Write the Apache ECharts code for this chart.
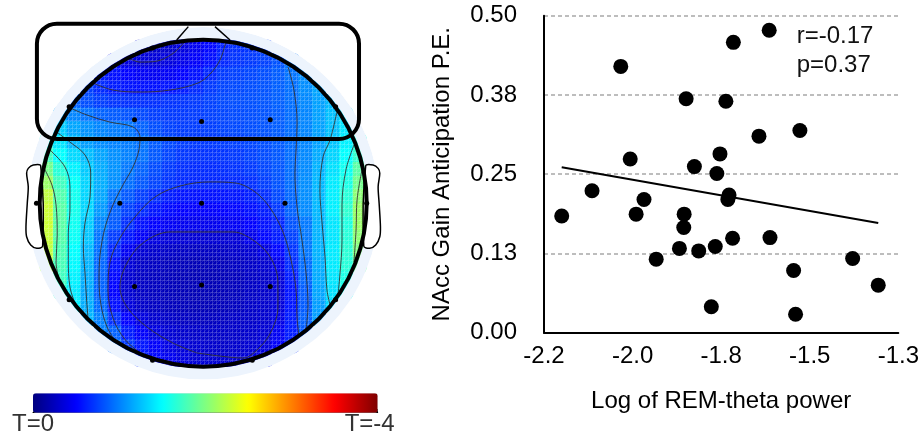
<!DOCTYPE html>
<html>
<head>
<meta charset="utf-8">
<script src="https://cdn.jsdelivr.net/npm/echarts@6/dist/echarts.min.js"></script>
<style>
  html, body { margin: 0; padding: 0; background: #fff; }
  #chart { width: 922px; height: 436px; }
</style>
</head>
<body>
<div id="chart"></div>
<script>
// ---------- Scatter: REM-theta power vs. NAcc gain anticipation ----------
const remTheta = [-2.155, -2.078, -2.005, -1.981, -1.946, -1.966, -1.915, -1.856, -1.844, -1.845,
                  -1.839, -1.818, -1.807, -1.775, -1.765, -1.761, -1.753, -1.738, -1.730, -1.733,
                  -1.721, -1.719, -1.654, -1.628, -1.626, -1.550, -1.566, -1.561, -1.416, -1.351];
const naccPE   = [0.184, 0.224, 0.420, 0.274, 0.210, 0.187, 0.116, 0.133, 0.187, 0.166,
                  0.369, 0.262, 0.129, 0.041, 0.136, 0.251, 0.282, 0.365, 0.217, 0.210,
                  0.149, 0.458, 0.310, 0.477, 0.150, 0.319, 0.098, 0.029, 0.117, 0.075];
const fitX = [-2.155, -1.351];
const fitY = [0.261, 0.173];
const xTickValues = [-2.2, -1.975, -1.75, -1.525, -1.3];
const xTickLabels = ['-2.2', '-2.0', '-1.8', '-1.5', '-1.3'];
const yTickValues = [0, 0.125, 0.25, 0.375, 0.5];
const yTickLabels = ['0.00', '0.13', '0.25', '0.38', '0.50'];
const statLines = ['r=-0.17', 'p=0.37'];

// ---------- Scalp map (T values, 0 .. -4) ----------
// Electrode positions in head units (radius 1, nose up)
const electrodes = [
  ['Fp1', -0.31, 0.95], ['Fp2', 0.30, 0.95],
  ['F7', -0.82, 0.59], ['F3', -0.42, 0.51], ['Fz', -0.01, 0.50], ['F4', 0.41, 0.51], ['F8', 0.81, 0.59],
  ['T3', -1.02, 0.0], ['C3', -0.51, 0.0], ['Cz', -0.01, 0.0], ['C4', 0.50, 0.0], ['T4', 1.0, 0.0],
  ['T5', -0.82, -0.59], ['P3', -0.42, -0.51], ['Pz', -0.01, -0.50], ['P4', 0.41, -0.51], ['T6', 0.81, -0.59],
  ['O1', -0.31, -0.96], ['O2', 0.30, -0.96]
];
// |T| on a 24 x 24 grid (row 0 = front); each row starts at column fieldStart[row]
const fieldStart = [7, 5, 4, 3, 2, 1, 1, 0, 0, 0, 0, 0, 0, 0, 0, 0, 0, 1, 1, 2, 3, 4, 5, 7];
const fieldRows = [
  [0.32,0.30,0.30,0.37,0.45,0.52,0.62,0.68,0.70,0.72],
  [0.45,0.38,0.35,0.35,0.37,0.42,0.48,0.55,0.65,0.70,0.72,0.75,0.82,0.97],
  [0.60,0.55,0.50,0.46,0.45,0.46,0.50,0.56,0.65,0.72,0.75,0.77,0.80,0.86,0.95,1.05],
  [0.75,0.66,0.60,0.57,0.56,0.56,0.57,0.60,0.66,0.72,0.76,0.78,0.80,0.82,0.87,0.93,1.05,1.15],
  [0.88,0.80,0.74,0.70,0.68,0.68,0.68,0.69,0.70,0.72,0.75,0.78,0.80,0.81,0.83,0.87,0.93,1.03,1.13,1.22],
  [1.15,1.02,0.95,0.88,0.85,0.82,0.78,0.74,0.72,0.72,0.73,0.75,0.77,0.79,0.80,0.82,0.86,0.92,1.02,1.13,1.25,1.38],
  [1.30,1.15,1.07,1.02,0.99,0.96,0.88,0.80,0.75,0.73,0.73,0.74,0.76,0.78,0.80,0.82,0.86,0.92,1.02,1.13,1.25,1.40],
  [1.60,1.40,1.22,1.12,1.05,1.01,0.98,0.94,0.85,0.78,0.74,0.72,0.72,0.73,0.75,0.77,0.80,0.85,0.92,1.02,1.13,1.27,1.45,1.62],
  [1.75,1.50,1.35,1.24,1.14,1.06,1.00,0.94,0.84,0.76,0.71,0.69,0.69,0.70,0.72,0.75,0.79,0.84,0.92,1.03,1.17,1.33,1.50,1.70],
  [1.95,1.65,1.45,1.29,1.17,1.07,0.97,0.88,0.79,0.72,0.68,0.66,0.66,0.67,0.69,0.72,0.77,0.83,0.92,1.04,1.20,1.38,1.55,1.85],
  [2.10,1.75,1.52,1.33,1.18,1.06,0.93,0.84,0.76,0.70,0.66,0.65,0.65,0.65,0.66,0.68,0.74,0.82,0.92,1.05,1.22,1.42,1.60,1.95],
  [2.25,1.82,1.56,1.34,1.15,0.95,0.84,0.74,0.66,0.60,0.57,0.56,0.56,0.57,0.58,0.61,0.67,0.78,0.90,1.05,1.23,1.44,1.65,2.05],
  [2.30,1.85,1.57,1.34,1.10,0.88,0.75,0.66,0.58,0.53,0.50,0.49,0.49,0.50,0.52,0.55,0.60,0.72,0.88,1.04,1.22,1.44,1.68,2.10],
  [2.30,1.85,1.55,1.30,1.02,0.85,0.68,0.56,0.50,0.46,0.44,0.43,0.43,0.44,0.46,0.50,0.56,0.64,0.82,0.97,1.20,1.40,1.62,2.10],
  [2.28,1.83,1.53,1.27,0.95,0.73,0.58,0.47,0.38,0.35,0.34,0.33,0.33,0.33,0.34,0.42,0.52,0.60,0.75,0.97,1.20,1.40,1.65,2.05],
  [2.25,1.80,1.50,1.22,0.93,0.64,0.45,0.33,0.30,0.28,0.27,0.26,0.26,0.27,0.30,0.32,0.38,0.52,0.70,0.96,1.20,1.42,1.66,2.00],
  [2.20,1.78,1.48,1.20,0.90,0.56,0.34,0.28,0.26,0.24,0.23,0.22,0.22,0.23,0.26,0.28,0.31,0.42,0.66,0.92,1.18,1.42,1.65,1.90],
  [1.75,1.45,1.18,0.88,0.52,0.32,0.27,0.25,0.23,0.22,0.21,0.21,0.22,0.24,0.27,0.29,0.36,0.60,0.90,1.17,1.40,1.60],
  [1.70,1.42,1.16,0.88,0.50,0.32,0.27,0.25,0.23,0.22,0.21,0.21,0.22,0.24,0.27,0.29,0.35,0.57,0.86,1.15,1.38,1.55],
  [1.45,1.18,0.92,0.55,0.36,0.29,0.26,0.24,0.23,0.22,0.22,0.23,0.25,0.28,0.30,0.36,0.58,0.85,1.12,1.35],
  [1.22,1.00,0.68,0.50,0.37,0.31,0.28,0.26,0.25,0.25,0.26,0.28,0.29,0.31,0.40,0.60,0.88,1.12],
  [1.00,0.88,0.60,0.48,0.38,0.33,0.30,0.29,0.28,0.28,0.29,0.30,0.33,0.45,0.60,0.85],
  [0.95,0.72,0.58,0.48,0.40,0.35,0.32,0.30,0.29,0.30,0.32,0.36,0.48,0.62],
  [0.62,0.52,0.44,0.38,0.34,0.32,0.31,0.32,0.35,0.42]
];
// Iso-T contour lines in head units
const contourLines = [
  [[-0.466,0.894],[-0.387,0.863],[-0.283,0.869],[-0.191,0.912],[-0.136,0.961],[-0.111,0.992]],
  [[-0.674,0.735],[-0.552,0.692],[-0.387,0.680],[-0.203,0.692],[-0.032,0.735],[0.042,0.790],[0.103,0.876],[0.134,0.968],[0.146,0.998]],
  [[-0.826,0.588],[-0.710,0.539],[-0.570,0.496],[-0.429,0.466],[-0.387,0.405],[-0.393,0.326],[-0.429,0.222],[-0.491,0.111],[-0.552,-0.011],[-0.601,-0.152],[-0.631,-0.317],[-0.637,-0.470],[-0.625,-0.623],[-0.588,-0.757],[-0.533,-0.849]],
  [[-0.906,0.442],[-0.815,0.374],[-0.723,0.295],[-0.688,0.185],[-0.692,0.038],[-0.723,-0.121],[-0.733,-0.268],[-0.723,-0.427],[-0.713,-0.592],[-0.705,-0.696]],
  [[-0.937,0.325],[-0.845,0.221],[-0.815,0.099],[-0.815,-0.042],[-0.825,-0.182],[-0.825,-0.347],[-0.815,-0.513],[-0.778,-0.629]],
  [[-0.974,0.215],[-0.925,0.111],[-0.900,-0.011],[-0.893,-0.195],[-0.900,-0.360],[-0.876,-0.488]],
  [[-0.374,-0.925],[-0.478,-0.834],[-0.552,-0.702],[-0.582,-0.531],[-0.570,-0.360],[-0.509,-0.213],[-0.417,-0.084],[-0.295,0.038],[-0.142,0.105],[0.042,0.130],[0.194,0.124],[0.317,0.069],[0.409,-0.029],[0.488,-0.176],[0.537,-0.347],[0.568,-0.531],[0.574,-0.702],[0.586,-0.812]],
  [[-0.038,-0.916],[-0.185,-0.855],[-0.344,-0.757],[-0.466,-0.635],[-0.509,-0.513],[-0.466,-0.366],[-0.368,-0.243],[-0.203,-0.176],[0.042,-0.176],[0.182,-0.176],[0.329,-0.243],[0.420,-0.347],[0.457,-0.488],[0.457,-0.635],[0.420,-0.776],[0.347,-0.880],[0.243,-0.947],[0.103,-0.935],[-0.038,-0.916]],
  [[0.519,0.833],[0.555,0.692],[0.574,0.491],[0.568,0.325],[0.561,0.185],[0.574,-0.023],[0.604,-0.225],[0.629,-0.427],[0.641,-0.623],[0.629,-0.776]],
  [[0.818,0.558],[0.776,0.387],[0.733,0.283],[0.714,0.081],[0.727,-0.121],[0.745,-0.329],[0.757,-0.531],[0.776,-0.623]],
  [[0.922,0.356],[0.873,0.203],[0.849,-0.011],[0.849,-0.225],[0.836,-0.439],[0.824,-0.568]],
  [[0.971,0.203],[0.941,0.020],[0.935,-0.164],[0.922,-0.360]]
];
const earLeft = [[-0.994,0.229],[-1.039,0.234],[-1.070,0.213],[-1.080,0.183],[-1.070,0.101],[-1.076,0.0],
                 [-1.084,-0.144],[-1.080,-0.205],[-1.055,-0.256],[-1.018,-0.276],[-0.982,-0.262]];
const colorbarLabels = ['T=0', 'T=-4'];
const jet = ['#7f0000','#ff0000','#ff8000','#ffff00','#80ff80','#00ffff','#0080ff','#0000ff','#00007f'];

const FONT = 'Liberation Sans, Helvetica, Arial, sans-serif';
const nCells = 24;
const cellIdx = Array.from({length: nCells}, (_, i) => String(i));

const heatData = [];
fieldRows.forEach((row, r) => {
  row.forEach((m, k) => heatData.push([fieldStart[r] + k, r, -m]));
});

const chart = echarts.init(document.getElementById('chart'), null, {renderer: 'canvas'});

const headBox = {left: 39.7, top: 39.7, width: 327, height: 327};

const option = {
  animation: false,
  backgroundColor: '#fff',
  grid: [
    Object.assign({}, headBox),                                  // field cells
    Object.assign({}, headBox),                                  // head overlay (units)
    {left: 544, top: 15.7, width: 356, height: 317},             // scatter
    {left: 33, top: 393.3, width: 344.7, height: 19.4}           // colour-bar ticks
  ],
  xAxis: [
    {gridIndex: 0, type: 'category', data: cellIdx, show: false},
    {gridIndex: 1, type: 'value', min: -1, max: 1, show: false},
    {gridIndex: 2, type: 'value', min: -2.2, max: -1.3,
     axisLine: {lineStyle: {color: '#000', width: 2}},
     axisTick: {show: false}, splitLine: {show: false},
     axisLabel: {customValues: xTickValues, margin: 12, fontSize: 24, color: '#000', fontFamily: FONT,
       formatter: v => { const i = xTickValues.findIndex(t => Math.abs(t - v) < 1e-6); return i >= 0 ? xTickLabels[i] : ''; }},
     name: 'Log of REM-theta power', nameLocation: 'middle', nameGap: 57,
     nameTextStyle: {fontSize: 24, color: '#000', fontFamily: FONT}},
    {gridIndex: 3, type: 'value', min: -4, max: 0, interval: 0.5, inverse: true,
     axisLine: {lineStyle: {color: '#000', width: 1}},
     axisTick: {inside: true, length: 3, lineStyle: {color: '#000'}},
     splitLine: {show: false},
     axisLabel: {margin: 0, fontSize: 24, color: '#333', fontFamily: FONT,
       rich: {end: {fontSize: 24, color: '#333', fontFamily: FONT, padding: [0, 16, 0, 0]}},
       formatter: v => v === 0 ? colorbarLabels[0] : (v === -4 ? '{end|' + colorbarLabels[1] + '}' : '')}}
  ],
  yAxis: [
    {gridIndex: 0, type: 'category', data: cellIdx, inverse: true, show: false},
    {gridIndex: 1, type: 'value', min: -1, max: 1, show: false},
    {gridIndex: 2, type: 'value', min: 0, max: 0.5, interval: 0.125,
     axisLine: {show: true, lineStyle: {color: '#000', width: 2}},
     axisTick: {show: false},
     splitLine: {lineStyle: {color: '#a8a8a8', width: 1.5, type: [4, 3]}},
     axisLabel: {margin: 27, fontSize: 24, color: '#000', fontFamily: FONT,
       formatter: v => { const i = yTickValues.findIndex(t => Math.abs(t - v) < 1e-6); return i >= 0 ? yTickLabels[i] : ''; }},
     name: 'NAcc Gain Anticipation P.E.', nameLocation: 'middle', nameGap: 90,
     nameTextStyle: {fontSize: 24, color: '#000', fontFamily: FONT}},
    {gridIndex: 3, type: 'value', min: 0, max: 1, show: false}
  ],
  visualMap: [{
    type: 'continuous', seriesIndex: 0, min: -4, max: 0,
    orient: 'horizontal', inverse: true, calculable: false, hoverLink: false,
    left: 33, top: 393.3, itemWidth: 19.4, itemHeight: 344.7, padding: 0,
    inRange: {color: jet}
  }],
  series: [
    {type: 'heatmap', xAxisIndex: 0, yAxisIndex: 0, data: heatData, z: 2,
     itemStyle: {borderWidth: 0}, emphasis: {disabled: true}, progressive: 0}
  ]
};

contourLines.forEach(line => {
  option.series.push({
    type: 'line', xAxisIndex: 1, yAxisIndex: 1, data: line, smooth: 0.35,
    showSymbol: false, clip: false, silent: true, z: 5,
    lineStyle: {color: '#333', width: 1, opacity: 0.9}
  });
});
option.series.push({
  type: 'scatter', xAxisIndex: 1, yAxisIndex: 1, clip: false, silent: true, z: 7,
  data: electrodes.map(e => [e[1], e[2]]), symbolSize: 5, itemStyle: {color: '#000', opacity: 1}
});
option.series.push({
  type: 'scatter', xAxisIndex: 2, yAxisIndex: 2, z: 4,
  data: remTheta.map((x, i) => [x, naccPE[i]]), symbolSize: 15, itemStyle: {color: '#000', opacity: 1}
});
option.series.push({
  type: 'line', xAxisIndex: 2, yAxisIndex: 2, z: 3, showSymbol: false,
  data: fitX.map((x, i) => [x, fitY[i]]), lineStyle: {color: '#000', width: 2}
});

chart.setOption(option);

// ---------- Head outline, texture, ears, nose, focus box ----------
const toPx = (u, v) => chart.convertToPixel({gridIndex: 1}, [u, v]);
const c0 = toPx(0, 0);
const R = toPx(1, 0)[0] - c0[0];

const tile = document.createElement('canvas');
tile.width = 8; tile.height = 8;
const g = tile.getContext('2d');
g.fillStyle = 'rgba(255,255,255,0.16)';
g.fillRect(0, 0, 8, 1); g.fillRect(0, 4, 8, 1);
g.fillRect(0, 0, 1, 8); g.fillRect(4, 0, 1, 8);
g.strokeStyle = 'rgba(255,255,255,0.12)';
g.lineWidth = 1;
g.beginPath(); g.moveTo(0, 8); g.lineTo(8, 0); g.stroke();
g.beginPath(); g.moveTo(0, 4); g.lineTo(4, 0); g.stroke();
g.beginPath(); g.moveTo(4, 8); g.lineTo(8, 4); g.stroke();

const halo = '#edf4fd';
const earRight = earLeft.map(p => [-p[0], p[1]]);
const focus = {u0: -1.017, u1: 0.953, v0: 0.393, v1: 1.098};
const fTL = toPx(focus.u0, focus.v1), fBR = toPx(focus.u1, focus.v0);

chart.setOption({
  graphic: [
    {type: 'circle', silent: true, z: 0, shape: {cx: c0[0], cy: c0[1] + 1, r: R * 1.077}, style: {fill: halo}},
    {type: 'circle', silent: true, z: 3, shape: {cx: c0[0], cy: c0[1], r: R * 1.016}, style: {fill: {image: tile, repeat: 'repeat'}}},
    {type: 'ring', silent: true, z: 4, shape: {cx: c0[0], cy: c0[1], r: R * 1.077, r0: R * 1.014}, style: {fill: halo}},
    {type: 'ring', silent: true, z: 4, shape: {cx: c0[0], cy: c0[1], r: R * 1.135, r0: R * 1.077}, style: {fill: '#fff'}},
    {type: 'polygon', silent: true, z: 6, shape: {points: earLeft.map(p => toPx(p[0], p[1])), smooth: 0.3}, style: {fill: '#fff', stroke: '#000', lineWidth: 1.5}},
    {type: 'polygon', silent: true, z: 6, shape: {points: earRight.map(p => toPx(p[0], p[1])), smooth: 0.3}, style: {fill: '#fff', stroke: '#000', lineWidth: 1.5}},
    {type: 'polyline', silent: true, z: 6, shape: {points: [toPx(-0.162, 0.998), toPx(-0.091, 1.080)]}, style: {stroke: '#000', lineWidth: 1.5}},
    {type: 'polyline', silent: true, z: 6, shape: {points: [toPx(0.164, 0.998), toPx(0.072, 1.080)]}, style: {stroke: '#000', lineWidth: 1.5}},
    {type: 'circle', silent: true, z: 6, shape: {cx: c0[0], cy: c0[1], r: R}, style: {fill: null, stroke: '#000', lineWidth: 4}},
    {type: 'rect', silent: true, z: 8, shape: {x: fTL[0], y: fTL[1], width: fBR[0] - fTL[0], height: fBR[1] - fTL[1], r: 20},
     style: {fill: null, stroke: '#000', lineWidth: 4}},
    {type: 'text', silent: true, z: 8, x: 796.7, y: 36, style: {text: statLines[0], fontSize: 24, fontFamily: FONT, fill: '#111', verticalAlign: 'middle'}},
    {type: 'text', silent: true, z: 8, x: 796.7, y: 65, style: {text: statLines[1], fontSize: 24, fontFamily: FONT, fill: '#111', verticalAlign: 'middle'}}
  ]
});
</script>
</body>
</html>
